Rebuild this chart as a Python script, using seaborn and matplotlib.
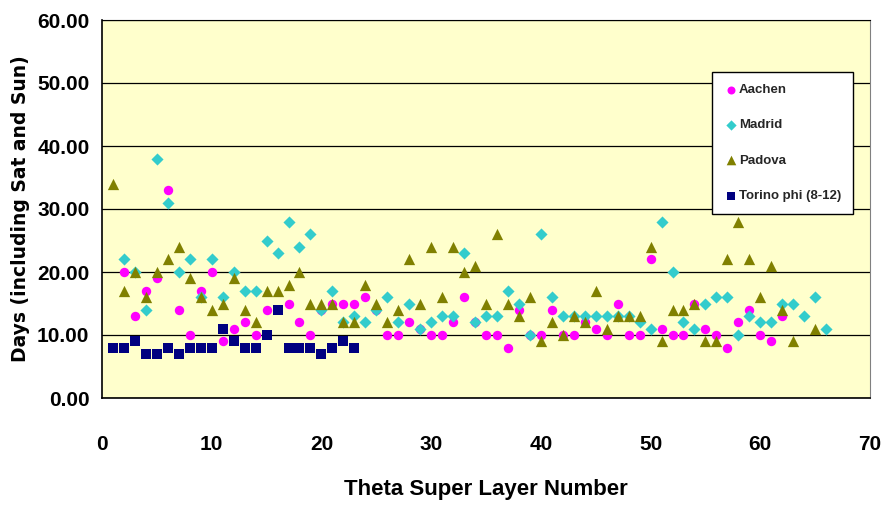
import pandas as pd
import matplotlib
matplotlib.use("Agg")
import matplotlib.pyplot as plt
import seaborn as sns
from matplotlib.ticker import FormatStrFormatter, MultipleLocator

# data
aachen_x = [2, 3, 4, 5, 6, 7, 8, 9, 10, 11, 12, 13, 14, 15, 17, 18, 19, 20, 21, 22,
            23, 24, 25, 26, 27, 28, 29, 30, 31, 32, 33, 34, 35, 36, 37, 38, 39, 40, 41, 42,
            43, 44, 45, 46, 47, 48, 49, 50, 51, 52, 53, 54, 55, 56, 57, 58, 59, 60, 61, 62]
aachen_y = [20, 13, 17, 19, 33, 14, 10, 17, 20, 9, 11, 12, 10, 14, 15, 12, 10, 14, 15, 15,
            15, 16, 14, 10, 10, 12, 11, 10, 10, 12, 16, 12, 10, 10, 8, 14, 10, 10, 14, 10,
            10, 12, 11, 10, 15, 10, 10, 22, 11, 10, 10, 15, 11, 10, 8, 12, 14, 10, 9, 13]

madrid_x = list(range(2, 67))
madrid_y = [22, 20, 14, 38, 31, 20, 22, 16, 22, 16, 20, 17, 17, 25, 23, 28, 24, 26, 14, 17,
            12, 13, 12, 14, 16, 12, 15, 11, 12, 13, 13, 23, 12, 13, 13, 17, 15, 10, 26, 16,
            13, 13, 13, 13, 13, 13, 13, 12, 11, 28, 20, 12, 11, 15, 16, 16, 10, 13, 12, 12,
            15, 15, 13, 16, 11]

padova_x = list(range(1, 64)) + [65]
padova_y = [34, 17, 20, 16, 20, 22, 24, 19, 16, 14, 15, 19, 14, 12, 17, 17, 18, 20, 15, 15,
            15, 12, 12, 18, 15, 12, 14, 22, 15, 24, 16, 24, 20, 21, 15, 26, 15, 13, 16, 9,
            12, 10, 13, 12, 17, 11, 13, 13, 13, 24, 9, 14, 14, 15, 9, 9, 22, 28, 22, 16,
            21, 14, 9, 11]

torino_x = list(range(1, 24))
torino_y = [8, 8, 9, 7, 7, 8, 7, 8, 8, 8, 11, 9, 8, 8, 10, 14, 8, 8, 8, 7, 8, 9, 8]

series = ["Aachen", "Madrid", "Padova", "Torino phi (8-12)"]
colors = ["#FF00FF", "#33CCCC", "#808000", "#000080"]
markers = ["o", "D", "^", "s"]
sizes = [46, 38, 66, 54]

df = pd.concat([
    pd.DataFrame({"layer": aachen_x, "days": aachen_y, "site": series[0]}),
    pd.DataFrame({"layer": madrid_x, "days": madrid_y, "site": series[1]}),
    pd.DataFrame({"layer": padova_x, "days": padova_y, "site": series[2]}),
    pd.DataFrame({"layer": torino_x, "days": torino_y, "site": series[3]}),
])

sns.set_style("white")
plt.rcParams["font.family"] = ["Liberation Sans", "DejaVu Sans"]
plt.rcParams["font.weight"] = "bold"

fig = plt.figure(figsize=(8.91, 5.07), dpi=100)
ax = fig.add_axes([102 / 891, 1 - 398 / 507, (870 - 102) / 891, (398 - 20) / 507])
ax.set_facecolor("#FFFFCC")

for name, c, m, s in zip(series, colors, markers, sizes):
    sub = df[df["site"] == name]
    sns.scatterplot(data=sub, x="layer", y="days", color=c, marker=m, s=s,
                    linewidth=0, label=name, ax=ax, zorder=3)

ax.set_xlim(0, 70)
ax.set_ylim(0, 60)
ax.xaxis.set_major_locator(MultipleLocator(10))
ax.yaxis.set_major_locator(MultipleLocator(10))
ax.yaxis.set_major_formatter(FormatStrFormatter("%.2f"))
ax.grid(axis="y", color="black", linewidth=0.9)
ax.set_axisbelow(True)

for side in ["left", "bottom"]:
    ax.spines[side].set_color("black")
    ax.spines[side].set_linewidth(1.2)
ax.spines["right"].set_color("#808080")
ax.spines["top"].set_color("black")

ax.tick_params(axis="x", direction="out", length=6, width=1, color="#555555",
               pad=21, labelsize=15, labelcolor="black")
ax.tick_params(axis="y", direction="out", length=5, width=1, color="#555555",
               pad=4, labelsize=15, labelcolor="black")
for lab in ax.get_xticklabels() + ax.get_yticklabels():
    lab.set_fontweight("bold")

ax.set_xlabel("Theta Super Layer Number", fontsize=16, fontweight="bold",
              labelpad=18, color="black")
ax.set_ylabel("Days (including Sat and Sun)", fontsize=13.5, fontweight="bold",
              labelpad=5, family=["DejaVu Sans"], color="black")

leg = ax.legend(loc="upper left", bbox_to_anchor=((712 - 102) / 768, 1 - (72 - 20) / 378),
                borderaxespad=0, frameon=True, fancybox=False, framealpha=1,
                edgecolor="black", facecolor="white", labelspacing=1.75,
                handletextpad=0.05, borderpad=0.9, handlelength=1.1, markerscale=0.85,
                prop={"weight": "bold", "size": 9.5})
leg.get_frame().set_linewidth(1)

fig.savefig("out.png", dpi=100)
